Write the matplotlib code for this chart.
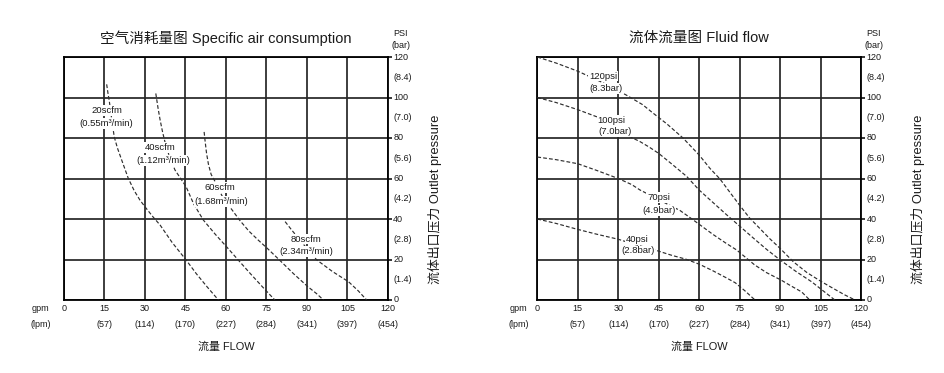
import matplotlib
matplotlib.use('Agg')
import matplotlib.pyplot as plt

FAM = ['Liberation Sans', 'Noto Sans CJK SC', 'DejaVu Sans']
plt.rcParams['font.family'] = FAM

# ---------------- data ----------------
gpm_ticks = [0, 15, 30, 45, 60, 75, 90, 105, 120]
lpm_labels = ['', '(57)', '(114)', '(170)', '(227)', '(284)', '(341)', '(397)', '(454)']
psi_ticks = [0, 20, 40, 60, 80, 100, 120]
bar_labels = ['', '(1.4)', '(2.8)', '(4.2)', '(5.6)', '(7.0)', '(8.4)']

# Specific air consumption curves (gpm, psi)
air20_x = [15.8, 16.3, 16.8, 17.6, 18.6, 19.8, 21.4, 23.8, 26, 28.1, 30, 33, 35.6, 40, 45.2, 49, 53, 57.2]
air20_y = [106.5, 102, 98, 90, 80.6, 75, 69, 60.1, 54, 49.4, 46, 41, 37, 28.5, 19.8, 13, 6.5, 0]
air40_x = [34, 34.8, 35.6, 36.5, 37.4, 39, 41.1, 45.2, 48, 51.6, 56, 60.2, 64.5, 68.9, 73.5, 78.1]
air40_y = [102, 95, 88.9, 83, 78, 71, 64.2, 56, 47.5, 39.5, 32.5, 26.3, 19.8, 13.2, 6.5, 0]
air60_x = [51.9, 52.3, 52.8, 53.5, 54.5, 56, 58.5, 61.8, 65, 68.5, 72, 75.3, 80, 85, 90.3, 93.5, 96.1]
air60_y = [83, 78, 72.4, 67, 62, 58.4, 51.5, 45.3, 39.5, 34, 29.5, 25.5, 19.5, 13, 6.6, 3.2, 0]
air80_x = [81.9, 84.3, 89, 93.6, 99.5, 105.4, 109, 112.1]
air80_y = [38.7, 34.6, 27, 19.8, 14, 9, 4.5, 0]

air_labels = [('20scfm', '(0.55m³/min)'), ('40scfm', '(1.12m³/min)'),
              ('60scfm', '(1.68m³/min)'), ('80scfm', '(2.34m³/min)')]
air_label_pos = [(15.8, 93.5, 15.8, 87.3), (35.8, 75.2, 36.8, 68.8),
                 (57.8, 55.6, 58.4, 48.5), (89.6, 30.1, 89.6, 23.9)]

# Fluid flow curves (gpm, psi)
f120_x = [0, 7, 15, 24, 33, 39, 43, 48, 54, 60, 64, 67.7, 71.5, 75, 78.7, 82, 86, 90, 94.9, 100, 105.4, 110, 114, 117.8]
f120_y = [120, 117, 113, 107.5, 101.2, 96.5, 92.2, 87, 80, 71.6, 65, 59.8, 53, 46.8, 40.5, 36, 30.5, 25.5, 18.9, 13.5, 9, 5.5, 2.5, 0]
f100_x = [0, 7, 15, 22, 29, 34.4, 38.1, 41.5, 45, 50, 55.4, 60, 65, 70, 75, 80.6, 85, 90, 96, 101.7, 106, 110.3]
f100_y = [100, 97.5, 94, 90.5, 85.5, 80.6, 78.2, 75.5, 72.4, 67, 61, 54.3, 48.3, 42.3, 36.5, 30, 25, 19.8, 14, 9, 4.5, 0]
f70_x = [0, 7, 15, 22, 30, 35, 38.1, 43, 48, 52.9, 56.5, 60, 65, 70, 73.9, 80.6, 85, 90.3, 94, 98, 101]
f70_y = [70.6, 69.3, 67.3, 64, 60, 57, 54.3, 51, 47.5, 44.2, 40.8, 37.4, 32.5, 28, 24.7, 17.3, 13.5, 9.9, 7, 4, 0]
f40_x = [0, 7, 14.6, 22, 30, 36, 43.6, 50, 55, 60, 65, 70, 73.4, 77, 80.7]
f40_y = [40, 37.8, 35, 32.5, 30, 27.5, 24.7, 22, 20.2, 17.7, 14.5, 11, 8.5, 4.5, 0]

flow_labels = [('120psi', '(8.3bar)'), ('100psi', '(7.0bar)'), ('70psi', '(4.9bar)'), ('40psi', '(2.8bar)')]
flow_label_pos = [(24.5, 110.6, 25.5, 104.5), (27.6, 88.5, 28.8, 83.1),
                  (45, 50.5, 45, 44.1), (37.2, 30, 37.2, 24.2)]

# ---------------- figure ----------------
W, H = 944, 373
fig = plt.figure(figsize=(W / 100, H / 100), dpi=100)
ax1 = fig.add_axes([64 / W, 73 / H, 324 / W, 243 / H])
ax2 = fig.add_axes([537.3 / W, 73 / H, 323.7 / W, 243 / H])

TICK_FS = 6.5
LBL_FS = 6.8
TXT_C = '#1a1a1a'
CURVE_KW = dict(color='#2e2e2e', lw=0.85, linestyle=(0, (3.2, 1.8)), zorder=3)
BOX = dict(facecolor='white', edgecolor='none', pad=0.6)


def setup(ax, title, gpm_x, vlab_x, val_x):
    ax.set_xlim(0, 120)
    ax.set_ylim(0, 120)
    ax.set_xticks(gpm_ticks)
    ax.set_yticks(psi_ticks)
    ax.grid(True, color='#262626', lw=1.25, zorder=1)
    ax.set_axisbelow(True)
    ax.tick_params(axis='x', length=0, labelbottom=False)
    ax.yaxis.tick_right()
    ax.tick_params(axis='y', length=3, width=1.1, labelright=False, labelleft=False,
                   right=True, left=False, color='black')
    for s in ax.spines.values():
        s.set_color('black')
        s.set_linewidth(1.3)
    tx = ax.get_xaxis_transform()
    ty = ax.get_yaxis_transform()
    for g, l in zip(gpm_ticks, lpm_labels):
        ax.text(g, -0.037, str(g), transform=tx, ha='center', va='center', fontsize=TICK_FS, color=TXT_C)
        if l:
            ax.text(g, -0.100, l, transform=tx, ha='center', va='center', fontsize=TICK_FS, color=TXT_C)
    ax.text(gpm_x, -0.037, 'gpm', transform=ax.transAxes, ha='center', va='center', fontsize=TICK_FS, color=TXT_C)
    ax.text(gpm_x, -0.100, '(lpm)', transform=ax.transAxes, ha='center', va='center', fontsize=TICK_FS, color=TXT_C)
    for p, b in zip(psi_ticks, bar_labels):
        ax.text(val_x, p, str(p), transform=ty, ha='left', va='center', fontsize=TICK_FS, color=TXT_C)
        if b:
            ax.text(val_x, p - 10, b, transform=ty, ha='left', va='center', fontsize=TICK_FS, color=TXT_C)
    ax.text(1.039, 1.0975, 'PSI', transform=ax.transAxes, ha='center', va='center', fontsize=TICK_FS, color=TXT_C)
    ax.text(1.039, 1.049, '(bar)', transform=ax.transAxes, ha='center', va='center', fontsize=TICK_FS, color=TXT_C)
    ax.text(0.5, 1.077, title, transform=ax.transAxes, ha='center', va='center', fontsize=10.5, color=TXT_C)
    ax.text(0.5, -0.19, '流量 FLOW', transform=ax.transAxes, ha='center', va='center', fontsize=7.9, color=TXT_C)
    ax.text(vlab_x, 0.416, '流体出口压力 Outlet pressure', transform=ax.transAxes, rotation=90,
            ha='center', va='center', fontsize=9.3, color=TXT_C)


setup(ax1, '空气消耗量图 Specific air consumption', -0.0716, 1.146, 1.016)
setup(ax2, '流体流量图 Fluid flow', -0.057, 1.176, 1.018)

for xs, ys in [(air20_x, air20_y), (air40_x, air40_y), (air60_x, air60_y), (air80_x, air80_y)]:
    ax1.plot(xs, ys, **CURVE_KW)
for (t1, t2), (x1, y1, x2, y2) in zip(air_labels, air_label_pos):
    ax1.text(x1, y1, t1, ha='center', va='center', fontsize=LBL_FS, bbox=BOX, zorder=4, color=TXT_C)
    ax1.text(x2, y2, t2, ha='center', va='center', fontsize=LBL_FS, bbox=BOX, zorder=4, color=TXT_C)

for xs, ys in [(f120_x, f120_y), (f100_x, f100_y), (f70_x, f70_y), (f40_x, f40_y)]:
    ax2.plot(xs, ys, **CURVE_KW)
for (t1, t2), (x1, y1, x2, y2) in zip(flow_labels, flow_label_pos):
    ax2.text(x1, y1, t1, ha='center', va='center', fontsize=LBL_FS, bbox=BOX, zorder=4, color=TXT_C)
    ax2.text(x2, y2, t2, ha='center', va='center', fontsize=LBL_FS, bbox=BOX, zorder=4, color=TXT_C)

fig.savefig('out.png', dpi=100, facecolor='white')
